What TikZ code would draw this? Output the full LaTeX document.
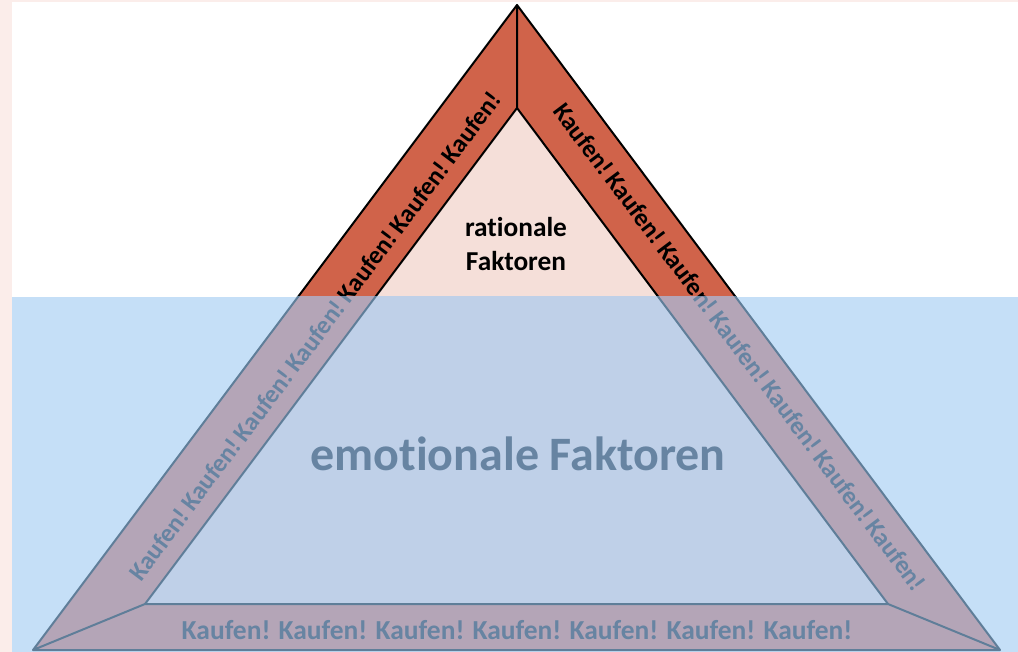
\documentclass[tikz,border=0pt]{standalone}
\usepackage{fontspec}
\setmainfont{Carlito}[Ligatures=NoCommon]
\definecolor{pinkbg}{HTML}{FBEDEA}
\definecolor{water}{HTML}{C5DFF7}
\definecolor{band}{HTML}{D0634A}
\definecolor{innerup}{HTML}{F5DFD9}
\definecolor{bandwet}{HTML}{B4A5B7}
\definecolor{innerwet}{HTML}{BFD0E8}
\definecolor{linewet}{HTML}{5F7E99}
\definecolor{textwet}{HTML}{6784A2}
\tikzset{
  kauf/.style={font=\fontsize{19}{22}\selectfont\bfseries, inner sep=0pt, anchor=center},
  kaufbottom/.style={font=\fontsize{20.6}{24}\selectfont\bfseries, inner sep=0pt, anchor=center},
  edge/.style={line width=1.5pt, line join=round},
}
\newcommand\kaufen{Kaufen! Kaufen! Kaufen! Kaufen! Kaufen! Kaufen! Kaufen!}
\newcommand\kaufentight{\hbox{\spaceskip=0.12em\relax\kaufen}}
% #1 band fill, #2 inner fill, #3 line colour, #4 text colour, #5 name suffix
\newcommand\drawpyramid[5]{%
  \fill[#1] (A) -- (BL) -- (BR) -- cycle;
  \fill[#2] (a) -- (bl) -- (br) -- cycle;
  \draw[edge, #3] (A) -- (BL) -- (BR) -- cycle (a) -- (bl) -- (br) -- cycle
       (A) -- (a) (BL) -- (bl) (BR) -- (br);
  \node[kauf, text=#4, rotate=53.13] (left#5) at (315,336) {\kaufentight};
  \node[kauf, text=#4, rotate=-53.13] (right#5) at (740,347) {\kaufentight};
  \node[kaufbottom, text=#4] (bottom#5) at (517,630) {\kaufen};
}
\begin{document}
\begin{tikzpicture}[x=0.75pt, y=-0.75pt]
  \useasboundingbox (0,0) rectangle (1018,652);
  \fill[pinkbg] (0,0) rectangle (1018,652);
  \fill[white] (12,2) rectangle (1018,652);
  \coordinate (A) at (517,5);
  \coordinate (BL) at (33,650);
  \coordinate (BR) at (1000,650);
  \coordinate (a) at (517,108);
  \coordinate (bl) at (145,604);
  \coordinate (br) at (888,604);
  % above the water
  \begin{scope}
    \clip (0,0) rectangle (1018,297);
    \drawpyramid{band}{innerup}{black}{black}{Up}
  \end{scope}
  \node[font=\fontsize{20.5}{26}\selectfont\bfseries, align=center] (rational) at (516,244) {rationale\\Faktoren};
  % below the water
  \begin{scope}
    \clip (12,297) rectangle (1018,652);
    \fill[water] (12,297) rectangle (1018,652);
    \drawpyramid{bandwet}{innerwet}{linewet}{textwet}{Wet}
  \end{scope}
  \node[font=\fontsize{36}{40}\selectfont\bfseries, text=textwet] (emotional) at (518,454) {emotionale Faktoren};
\end{tikzpicture}
\end{document}
